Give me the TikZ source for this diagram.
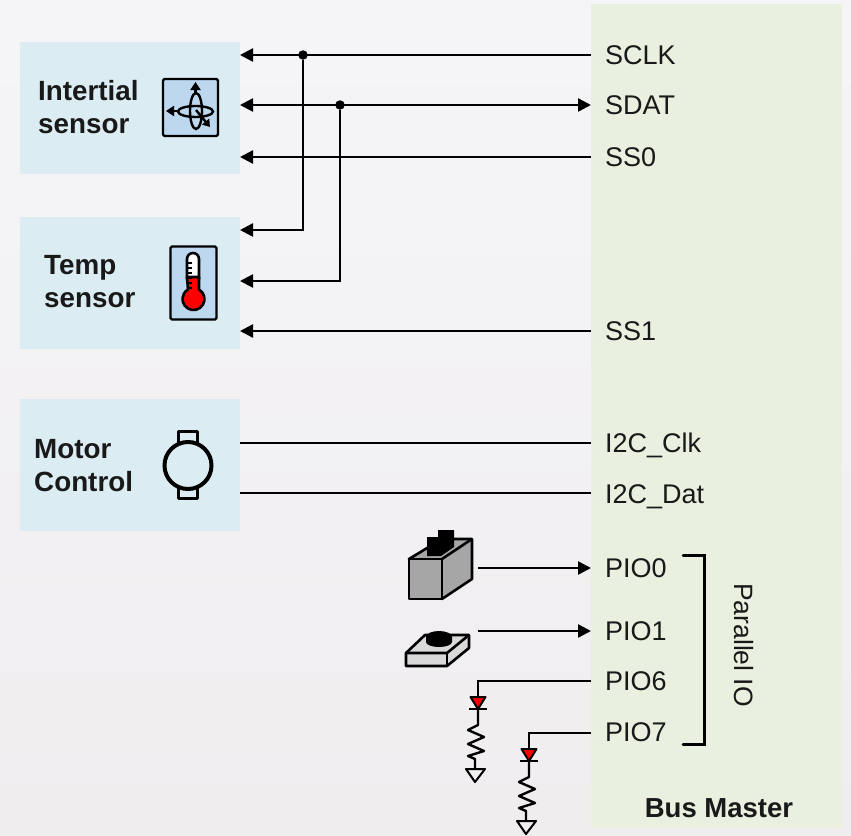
\documentclass[tikz,border=0pt]{standalone}
\usepackage{fontspec}
\setmainfont{Liberation Sans}
\usetikzlibrary{arrows.meta}
\definecolor{sensorblue}{HTML}{DBEDF3}
\definecolor{masterblue}{HTML}{E9F0DF}
\definecolor{iconblue}{HTML}{BDD7EE}
\definecolor{backtop}{HTML}{F5F5F7}
\definecolor{backbot}{HTML}{F0EDEF}
\tikzset{
  block/.style={fill=sensorblue,draw=none,minimum width=220pt,minimum height=132pt,inner sep=0pt,anchor=north west},
  blocktext/.style={font=\fontsize{27.8}{33}\selectfont\bfseries,align=left,inner sep=0pt,anchor=west,text=black!90},
  pin/.style={font=\fontsize{27}{32}\selectfont,anchor=base west,inner sep=0pt,text=black!90},
  wire/.style={line width=2.4pt},
  arrow/.style={wire,-{Triangle[length=13pt,width=13pt]}},
  both/.style={wire,{Triangle[length=13pt,width=13pt]}-{Triangle[length=13pt,width=13pt]}},
  icon/.style={draw=black,line width=2.4pt,rounded corners=1.5pt,fill=iconblue},
  dot/.style={circle,fill=black,inner sep=0pt,minimum size=9.5pt},
  part/.style={draw=black,line width=2.6pt,line join=round},
}
\begin{document}
\begin{tikzpicture}[x=1pt,y=-1pt]
  \useasboundingbox (0,0) rectangle (851,835);
  \shade[top color=backtop,bottom color=backbot] (0,0) rectangle (851,835);

  % blocks
  \node[block] (inertial) at (20,42) {};
  \node[block] (temp) at (20,217) {};
  \node[block] (motor) at (20,399) {};
  \fill[masterblue] (591,4) rectangle (842,828);

  \node[blocktext] (inertialtext) at (38,107) {Intertial\\sensor};
  \node[blocktext] (temptext) at (44,282) {Temp\\sensor};
  \node[blocktext] (motortext) at (34,466) {Motor\\Control};

  % pins
  \begin{scope}[every node/.style={pin}]
    \node (sclk) at (605,64) {SCLK};
    \node (sdat) at (605,114) {SDAT};
    \node (ss0) at (605,166) {SS0};
    \node (ss1) at (605,340) {SS1};
    \node (i2cclk) at (605,452) {I2C\_Clk};
    \node (i2cdat) at (605,503) {I2C\_Dat};
    \node (pio0) at (605,577) {PIO0};
    \node (pio1) at (605,640) {PIO1};
    \node (pio6) at (605,690) {PIO6};
    \node (pio7) at (605,741) {PIO7};
  \end{scope}
  \node[pin,anchor=center,rotate=-90,font=\fontsize{26.5}{32}\selectfont] (parallel) at (744,645) {Parallel IO};
  \node[font=\fontsize{27.5}{32}\selectfont\bfseries,inner sep=0pt,text=black!90] (busmaster) at (719,808) {Bus Master};

  % wire ends
  \coordinate (sclkin) at (240,55);
  \coordinate (sclkout) at (591,55);
  \coordinate (sdatin) at (240,105);
  \coordinate (sdatout) at (591,105);
  \coordinate (ss0in) at (240,157);
  \coordinate (ss0out) at (591,157);
  \coordinate (tempclk) at (240,230);
  \coordinate (tempdat) at (240,281);
  \coordinate (ss1in) at (240,331);
  \coordinate (ss1out) at (591,331);
  \coordinate (clkin) at (240,443);
  \coordinate (clkout) at (591,443);
  \coordinate (datin) at (240,493);
  \coordinate (datout) at (591,493);
  \node[dot] (clkdot) at (303,55) {};
  \node[dot] (datdot) at (340,105) {};

  \draw[arrow] (sclkout) -- (sclkin);
  \draw[both] (sdatin) -- (sdatout);
  \draw[arrow] (ss0out) -- (ss0in);
  \draw[arrow] (clkdot) |- (tempclk);
  \draw[arrow] (datdot) |- (tempdat);
  \draw[arrow] (ss1out) -- (ss1in);
  \draw[wire] (clkin) -- (clkout);
  \draw[wire] (datin) -- (datout);

  % inertial icon
  \node[icon,minimum width=55pt,minimum height=57pt,inner sep=0pt] (gyro) at (190.5,107.5) {};
  \draw[wire] (196,111) ellipse (6pt and 18pt);
  \draw[wire] (195.5,111.5) ellipse (17.5pt and 5.5pt);
  \draw[wire,-{Triangle[length=8pt,width=10pt]}] (195.5,94) -- (195.5,82);
  \draw[wire,-{Triangle[length=8pt,width=10pt]}] (179,111) -- (166,111);
  \draw[wire,-{Triangle[length=7pt,width=9pt]}] (196,110) -- (210,127);

  % thermometer icon
  \node[icon,minimum width=46pt,minimum height=73pt,inner sep=0pt] (thermo) at (193.5,283) {};
  \filldraw[part,fill=white] (187,279) -- (187,259) arc (180:0:6pt) -- (199,279) -- cycle;
  \filldraw[part,fill=red] (187,277) -- (199,277) -- (199,289.5) arc (60:-240:11pt) -- cycle;
  \foreach \ypos in {263,268,273,278,283,288}
    \draw[line width=1.6pt] (187,\ypos) -- (192,\ypos);

  % motor icon
  \draw[part,fill=sensorblue,line width=3pt] (178,445) rectangle (197,431);
  \draw[part,fill=sensorblue,line width=3pt] (178,487) rectangle (197,498);
  \node[circle,draw=black,line width=4pt,minimum size=47pt,inner sep=0pt,fill=sensorblue] (motoricon) at (188,465.5) {};

  % switches
  \filldraw[part,fill=black!35] (409,559) -- (442,539) -- (472,539) -- (472,579) -- (442,599) -- cycle;
  \draw[part,fill=black!35] (409,559) rectangle (442,599);
  \draw[part] (442,559) -- (472,539);
  \fill (427,537) -- (438,537) -- (438,530) -- (454,530) -- (454,547) -- (441,556) -- (427,556) -- cycle;
  \filldraw[part,fill=black!15] (406,653) -- (425,635) -- (469,635) -- (469,648) -- (447,666) -- (406,666) -- cycle;
  \draw[part] (406,653) -- (447,653) -- (469,635);
  \draw[part] (447,653) -- (447,666);
  \fill[black] (426,637) -- (426,642) arc (180:360:13pt and 5pt) -- (452,637) arc (0:180:13pt and 6pt);
  \coordinate (sw0) at (478,568);
  \coordinate (sw1) at (478,631);
  \coordinate (pio0in) at (591,568);
  \coordinate (pio1in) at (591,631);
  \draw[arrow] (sw0) -- (pio0in);
  \draw[arrow] (sw1) -- (pio1in);

  % led with resistor, twice
  \foreach \xled/\yled/\ledname in {478/681/six,529/733/seven}{
    \coordinate (led\ledname) at (\xled,\yled);
    \coordinate (pin\ledname) at (591,\yled);
    \draw[wire] (pin\ledname) -- (led\ledname) -- ++(0,16);
    \draw[part,fill=red,line width=2pt] (\xled-7.5,\yled+16) -- (\xled+7.5,\yled+16) -- (\xled,\yled+28) -- cycle;
    \draw[wire] (\xled-9,\yled+28) -- (\xled+9,\yled+28);
    \draw[wire,line join=round] (\xled,\yled+28) -- (\xled,\yled+44) -- (\xled-10,\yled+49) -- (\xled+6,\yled+56)
      -- (\xled-10,\yled+63) -- (\xled+6,\yled+70) -- (\xled-10,\yled+75) -- (\xled-3,\yled+78) -- (\xled-3,\yled+88);
    \draw[part,line width=2pt] (\xled-12,\yled+88) -- (\xled+7,\yled+88) -- (\xled-3,\yled+101) -- cycle;
  }

  % bracket
  \draw[line width=3pt,line join=miter,line cap=round] (683,555) -- (704,555) -- (704,744) -- (683,744);
\end{tikzpicture}
\end{document}
